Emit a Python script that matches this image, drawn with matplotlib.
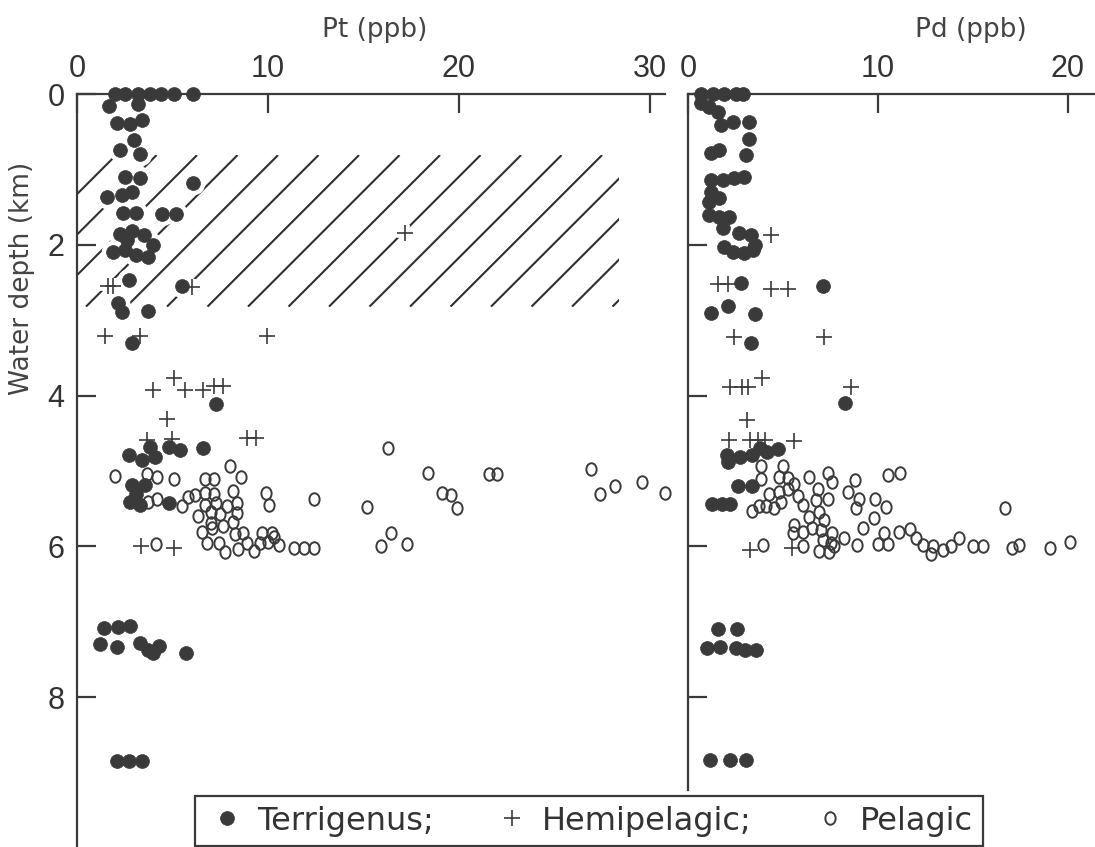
import matplotlib
matplotlib.use("Agg")
import matplotlib.pyplot as plt
from matplotlib.markers import MarkerStyle
from matplotlib.patches import Rectangle
from matplotlib.transforms import Affine2D
import numpy as np

# ---- values: concentration (ppb) vs water depth (km) ----
pt_terr_ppb = [2.0, 2.5, 3.2, 3.8, 4.4, 5.1, 6.1, 1.7, 3.2, 2.1, 2.8, 3.4, 3.0, 2.25, 3.3,
               2.5, 3.3, 6.1, 1.55, 2.35, 2.9, 2.4, 3.1, 4.45, 5.2,
               2.25, 2.9, 3.5, 4.0, 1.9, 2.5, 3.1, 3.7, 2.6,
               2.7, 5.5, 2.15, 2.35, 3.7, 2.9, 7.3,
               2.7, 3.4, 3.8, 4.1, 4.8, 5.4, 6.6, 2.9, 3.55, 2.8, 3.3, 3.1, 4.8,
               1.4, 2.15, 2.8, 1.2, 2.1, 3.3, 3.7, 4.0, 4.3, 5.7, 2.1, 2.7, 3.4]
pt_terr_km = [0, 0, 0, 0, 0, 0, 0, 0.16, 0.13, 0.38, 0.40, 0.35, 0.61, 0.74, 0.79,
              1.10, 1.12, 1.18, 1.37, 1.34, 1.30, 1.58, 1.58, 1.59, 1.59,
              1.86, 1.82, 1.87, 2.0, 2.1, 2.07, 2.13, 2.16, 1.94,
              2.47, 2.55, 2.77, 2.89, 2.88, 3.30, 4.11,
              4.79, 4.85, 4.68, 4.81, 4.68, 4.72, 4.70, 5.19, 5.19, 5.41, 5.45, 5.30, 5.43,
              7.08, 7.07, 7.06, 7.29, 7.33, 7.28, 7.37, 7.41, 7.32, 7.41, 8.85, 8.85, 8.85]

pt_hemi_ppb = [17.2, 1.6, 1.9, 6.0, 1.45, 3.3, 9.95, 4.0, 5.1, 5.65, 6.6, 7.2, 7.65,
               4.7, 3.65, 5.0, 8.9, 9.4, 3.35, 5.1]
pt_hemi_km = [1.84, 2.55, 2.55, 2.56, 3.21, 3.21, 3.21, 3.92, 3.77, 3.93, 3.93, 3.87, 3.87,
              4.31, 4.59, 4.58, 4.56, 4.56, 6.0, 6.02]

pt_pel_ppb = [2.0, 3.65, 4.2, 5.1, 6.7, 7.2, 8.0, 8.6,
              3.7, 4.2, 5.5, 5.8, 6.2, 6.7, 7.2,
              6.7, 7.3, 7.85, 8.4, 8.15, 9.9, 10.05, 12.4, 15.2, 16.3,
              6.35, 7.0, 7.5, 8.4, 7.0, 7.65, 8.15, 6.55, 7.05,
              8.3, 8.7, 9.7, 10.2,
              6.8, 7.45, 7.75, 8.45, 8.9, 9.25, 9.6, 10.0, 10.3, 10.6,
              4.15, 11.35, 11.9, 12.4, 15.9, 16.45,
              18.4, 21.6, 22.0, 19.1, 19.6, 19.9, 17.3,
              26.9, 27.4, 28.2, 29.6, 30.8]
pt_pel_km = [5.07, 5.04, 5.08, 5.10, 5.10, 5.10, 4.93, 5.08,
             5.41, 5.37, 5.46, 5.34, 5.32, 5.29, 5.30,
             5.45, 5.42, 5.46, 5.42, 5.27, 5.29, 5.45, 5.37, 5.48, 4.70,
             5.60, 5.54, 5.57, 5.56, 5.69, 5.73, 5.68, 5.81, 5.76,
             5.84, 5.82, 5.82, 5.82,
             5.95, 5.95, 6.07, 6.03, 5.95, 6.06, 5.95, 5.94, 5.87, 5.98,
             5.97, 6.02, 6.02, 6.02, 6.0, 5.82,
             5.03, 5.04, 5.04, 5.29, 5.32, 5.49, 5.97,
             4.97, 5.31, 5.20, 5.15, 5.29]

pd_terr_ppb = [0.7, 1.3, 1.9, 2.5, 2.9, 0.7, 1.1, 1.6,
               1.75, 2.35, 3.2, 3.2, 1.2, 1.65, 3.05,
               1.2, 1.85, 2.4, 2.95,
               1.2, 1.1, 1.65, 1.1, 1.65, 2.15, 1.85,
               2.7, 3.3, 3.5, 1.9, 2.35, 2.95, 3.4,
               2.8, 7.1, 1.2, 2.1, 3.5, 3.3, 8.25,
               2.05, 2.1, 2.75, 3.35, 3.8, 4.15, 4.75,
               2.65, 3.35, 1.25, 1.8, 2.2,
               1.6, 2.6, 1.0, 1.7, 2.5, 3.0, 3.6,
               1.15, 2.2, 3.05]
pd_terr_km = [0, 0, 0, 0, 0, 0.12, 0.17, 0.24,
              0.41, 0.37, 0.37, 0.60, 0.78, 0.74, 0.81,
              1.14, 1.14, 1.11, 1.10,
              1.30, 1.43, 1.38, 1.60, 1.63, 1.63, 1.78,
              1.84, 1.87, 2.0, 2.03, 2.10, 2.11, 2.07,
              2.51, 2.55, 2.90, 2.81, 2.92, 3.30, 4.10,
              4.79, 4.88, 4.81, 4.79, 4.69, 4.75, 4.71,
              5.20, 5.20, 5.44, 5.44, 5.44,
              7.10, 7.10, 7.35, 7.33, 7.35, 7.37, 7.37,
              8.83, 8.83, 8.83]

pd_hemi_ppb = [4.35, 1.6, 2.1, 4.35, 5.25, 2.4, 7.15, 2.2, 2.85, 3.15, 3.9, 8.6,
               3.1, 2.15, 3.25, 3.7, 4.05, 5.6, 3.25, 5.45]
pd_hemi_km = [1.87, 2.52, 2.52, 2.59, 2.59, 3.22, 3.22, 3.88, 3.88, 3.88, 3.77, 3.88,
              4.32, 4.59, 4.59, 4.59, 4.59, 4.60, 6.05, 6.02]

pd_pel_ppb = [3.85, 5.0, 3.85, 4.8, 5.25, 5.6, 6.35, 7.35, 7.6, 8.8, 10.5, 11.15,
              4.25, 4.8, 5.25,
              3.35, 3.75, 4.1, 4.5, 4.9,
              5.8, 6.05, 6.85, 6.75, 7.35, 8.4, 9.0, 9.85, 10.4, 8.85, 16.7,
              6.35, 6.9, 7.15, 9.8, 9.2,
              5.6, 5.55, 6.05, 6.5, 7.0, 7.6, 8.2,
              3.95, 6.05, 7.1, 7.55, 7.7, 6.9, 7.4, 8.9,
              10.0, 10.5, 10.3, 11.1, 11.7, 12.0,
              12.35, 12.9, 12.8, 13.4, 13.85, 14.25,
              15.0, 15.5, 17.05, 17.4, 19.05, 20.1]
pd_pel_km = [4.94, 4.93, 5.10, 5.08, 5.09, 5.17, 5.08, 5.03, 5.15, 5.12, 5.05, 5.03,
             5.31, 5.28, 5.24,
             5.53, 5.46, 5.46, 5.49, 5.41,
             5.33, 5.45, 5.24, 5.38, 5.37, 5.28, 5.37, 5.37, 5.48, 5.49, 5.49,
             5.61, 5.54, 5.65, 5.62, 5.76,
             5.72, 5.82, 5.81, 5.76, 5.78, 5.82, 5.89,
             5.98, 6.0, 5.92, 5.96, 6.0, 6.06, 6.07, 5.98,
             5.97, 5.97, 5.82, 5.81, 5.77, 5.89,
             5.98, 6.0, 6.1, 6.05, 6.0, 5.89,
             6.0, 6.0, 6.02, 5.98, 6.02, 5.94]

depth_ticks = [0, 2, 4, 6, 8]
pt_ticks = [0, 10, 20, 30]
pd_ticks = [0, 10, 20]
legend_labels = ["Terrigenus;", "Hemipelagic;", "Pelagic"]

# shaded (hatched) Pt window: 0-28.4 ppb, 0.81-2.82 km
hatch_ppb_max = 28.4
hatch_km = (0.81, 2.82)

INK = "#3a3a3a"
TICK_FONT = ["Liberation Sans Narrow", "Liberation Sans", "DejaVu Sans"]
TEXT_FONT = ["DejaVu Sans"]


def plot_group(ax, x, d, kind, halo=False):
    """Plot one sediment type; optional white halo to break the hatch lines."""
    if kind == "terr":
        style = dict(marker="o", ms=10, mfc=INK, mec=INK, mew=0.5)
    elif kind == "hemi":
        style = dict(marker="+", ms=12, mec=INK, mew=1.2)
    else:
        ell = MarkerStyle("o", transform=Affine2D().scale(0.82, 1.0))
        style = dict(marker=ell, ms=9, mfc="none", mec=INK, mew=1.4)
    if halo:
        ax.plot(x, d, ls="none", marker=style["marker"], ms=style["ms"],
                mfc="white", mec="white", mew=7, zorder=2, clip_on=False)
    (line,) = ax.plot(x, d, ls="none", zorder=3, clip_on=False, **style)
    return line


def setup_axes(ax, xmax, ymax, xticks, ylabels):
    ax.set_xlim(0, xmax)
    ax.set_ylim(ymax, 0)
    ax.set_xticks(xticks)
    ax.set_yticks(depth_ticks)
    for side in ("right", "bottom"):
        ax.spines[side].set_visible(False)
    for side in ("left", "top"):
        ax.spines[side].set_linewidth(1.6)
        ax.spines[side].set_color(INK)
    ax.tick_params(direction="in", length=14, width=1.6, color=INK,
                   labelcolor="#333333", labelsize=22)
    ax.tick_params(axis="x", top=True, bottom=False, labeltop=True,
                   labelbottom=False, pad=7)
    ax.tick_params(axis="y", left=True, right=False, labelleft=ylabels, pad=9)
    for lab in ax.get_xticklabels() + ax.get_yticklabels():
        lab.set_family(TICK_FONT)


def draw_hatch(ax, xmax, km_top, km_bot, spacing_px=40.5, offset_px=9.0):
    """45 degree lines (in screen space) clipped to the shaded window."""
    p0, p1 = ax.transData.transform([(0, 0), (1, 1)])
    kx = p1[0] - p0[0]          # px per ppb
    ky = p0[1] - p1[1]          # px per km (axis inverted)
    rise = (km_bot - km_top) * ky / kx
    clip = Rectangle((0, km_top), xmax, km_bot - km_top,
                     transform=ax.transData, fill=False, lw=0)
    for k in range(-6, 16):
        xb = (offset_px + k * spacing_px) / kx
        (ln,) = ax.plot([xb, xb + rise], [km_bot, km_top], color="#2f2f2f",
                        lw=1.5, zorder=1, solid_capstyle="butt")
        ln.set_clip_path(clip)


fig = plt.figure(figsize=(10.95, 8.47), dpi=100)
ax_pt = fig.add_axes([77 / 1095, 0.0, 588 / 1095, 753 / 847])
ax_pd = fig.add_axes([688 / 1095, 57 / 847, 407 / 1095, 696 / 847])

setup_axes(ax_pt, 30.8, 753 / 75.4, pt_ticks, True)
setup_axes(ax_pd, 407 / 19.0, 696 / 75.4, pd_ticks, False)

draw_hatch(ax_pt, hatch_ppb_max, *hatch_km)

h_terr = plot_group(ax_pt, pt_terr_ppb, pt_terr_km, "terr", halo=True)
h_hemi = plot_group(ax_pt, pt_hemi_ppb, pt_hemi_km, "hemi", halo=True)
h_pel = plot_group(ax_pt, pt_pel_ppb, pt_pel_km, "pel")
plot_group(ax_pd, pd_terr_ppb, pd_terr_km, "terr")
plot_group(ax_pd, pd_hemi_ppb, pd_hemi_km, "hemi")
plot_group(ax_pd, pd_pel_ppb, pd_pel_km, "pel")

fig.text(375 / 1095, 1 - 30 / 847, "Pt (ppb)", ha="center", va="center",
         fontsize=19, color="#444444", family=TEXT_FONT)
fig.text(971 / 1095, 1 - 30 / 847, "Pd (ppb)", ha="center", va="center",
         fontsize=19, color="#444444", family=TEXT_FONT)
fig.text(22 / 1095, 1 - 278 / 847, "Water depth (km)", ha="center", va="center",
         rotation=90, fontsize=19, color="#444444", family=TEXT_FONT)

leg = fig.legend([h_terr, h_hemi, h_pel], legend_labels, loc="upper left",
                 bbox_to_anchor=(195 / 1095, 0, 788 / 1095, 1 - 796 / 847),
                 mode="expand", ncol=3, frameon=True, fancybox=False,
                 handlelength=1.4, handletextpad=0.25, borderpad=0.3,
                 borderaxespad=0, prop={"family": TEXT_FONT, "size": 23})
leg.get_frame().set_edgecolor(INK)
leg.get_frame().set_linewidth(1.6)
leg.get_frame().set_alpha(1)
for txt in leg.get_texts():
    txt.set_color("#333333")

fig.savefig("out.png", dpi=100)
